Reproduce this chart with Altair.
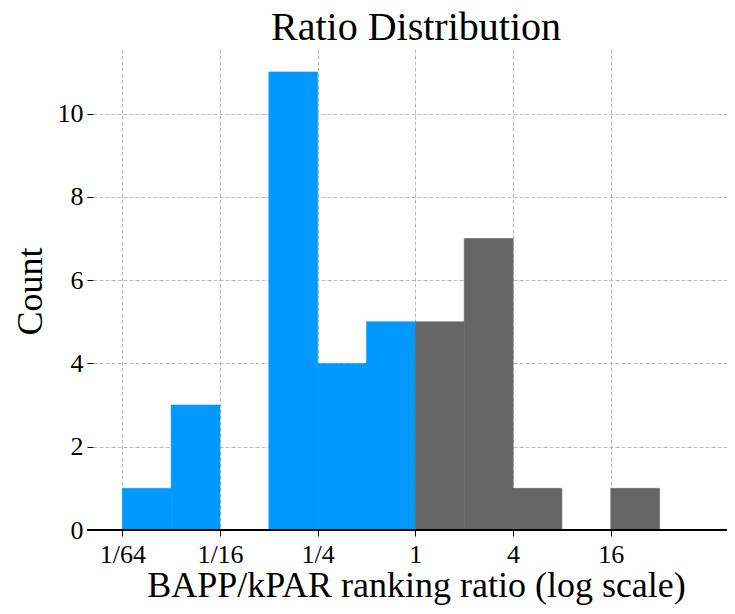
import altair as alt
import pandas as pd

# Histogram bins (ratio, log2 bins)
bin_lo = [1/64, 1/32, 1/16, 1/8, 1/4, 1/2, 1, 2, 4, 8, 16]
bin_hi = [1/32, 1/16, 1/8, 1/4, 1/2, 1, 2, 4, 8, 16, 32]
counts = [1, 3, 0, 11, 4, 5, 5, 7, 1, 0, 1]
groups = ["below", "below", "below", "below", "below", "below",
          "above", "above", "above", "above", "above"]

tick_values = [1/64, 1/16, 1/4, 1, 4, 16]
tick_labels = ["1/64", "1/16", "1/4", "1", "4", "16"]
y_ticks = [0, 2, 4, 6, 8, 10]
title_text = "Ratio Distribution"

df = pd.DataFrame({"lo": bin_lo, "hi": bin_hi, "count": counts, "group": groups})
df = df[df["count"] > 0]

W, H = 634, 481
FONT = "Liberation Serif"

label_expr = "[" + ",".join(f"'{t}'" for t in tick_labels) + "][round(log(datum.value)/log(4))+3]"

x_scale = alt.Scale(type="log", base=2, domain=[2 ** -6.6, 2 ** 6.38], nice=False, zero=False)
y_scale = alt.Scale(domain=[0, 11.55], nice=False)
c_scale = alt.Scale(domain=["below", "above"], range=["#0099ff", "#666666"])

bars = alt.Chart(df).mark_rect(strokeWidth=0.6).encode(
    x=alt.X("lo:Q", scale=x_scale,
            axis=alt.Axis(values=tick_values, labelExpr=label_expr,
                          title="BAPP/kPAR ranking ratio (log scale)",
                          domain=False, tickColor="black", tickSize=6, tickWidth=1,
                          labelPadding=5, labelFontSize=26, labelColor="black",
                          labelFont=FONT, labelFlush=False,
                          titleFont=FONT, titleFontSize=36, titleFontWeight="normal",
                          titleColor="black", titleX=323, titleY=66,
                          titleAlign="center", titleBaseline="alphabetic",
                          grid=True, gridColor="#b3b3b3", gridDash=[4, 2], gridWidth=0.9)),
    x2="hi:Q",
    y=alt.Y("count:Q", scale=y_scale,
            axis=alt.Axis(values=y_ticks, title="Count", domain=False,
                          tickColor="black", tickSize=6, tickWidth=1,
                          labelPadding=4, labelFontSize=26, labelColor="black",
                          labelFont=FONT,
                          titleFont=FONT, titleFontSize=36, titleFontWeight="normal",
                          titleColor="black", titleX=-63, titleY=242, titleAngle=-90,
                          titleAlign="center", titleBaseline="middle",
                          grid=True, gridColor="#b3b3b3", gridDash=[4, 2], gridWidth=0.9)),
    y2=alt.datum(0),
    color=alt.Color("group:N", scale=c_scale, legend=None),
    stroke=alt.Stroke("group:N", scale=c_scale, legend=None),
)

baseline = alt.Chart(df).mark_rule(color="black", strokeWidth=1.3).encode(
    x=alt.value(-6), x2=alt.value(W), y=alt.value(H)
)

title = alt.Chart(pd.DataFrame({"t": [title_text]})).mark_text(
    font=FONT, fontSize=40, color="black", align="center", baseline="alphabetic"
).encode(text="t:N", x=alt.value(W / 2 + 6), y=alt.value(-9))

chart = alt.layer(bars, baseline, title).properties(
    width=W, height=H,
    padding={"left": 85, "top": 41, "right": 0, "bottom": 76},
    autosize=alt.AutoSizeParams(type="none"),
).configure(font=FONT, view=alt.ViewConfig(stroke=None))

chart.save("out.html", embed_options={"renderer": "svg", "actions": False})
